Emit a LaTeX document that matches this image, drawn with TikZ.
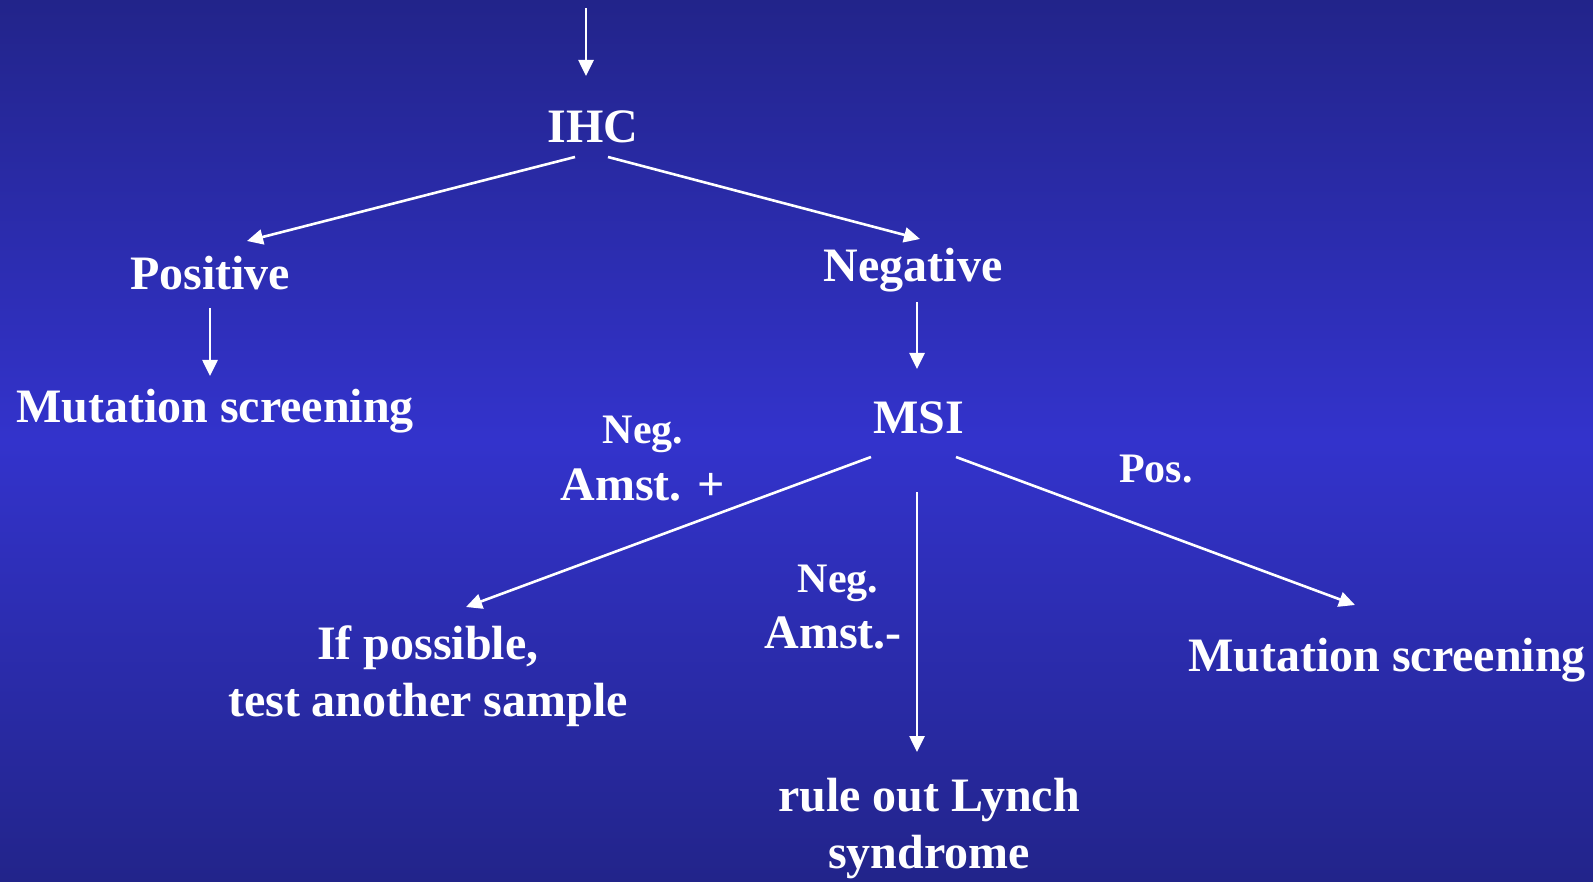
\documentclass[tikz,border=0pt]{standalone}
\usepackage{fontspec}
\setmainfont{Liberation Serif}
\usetikzlibrary{arrows.meta}
\definecolor{bgedge}{RGB}{34,36,138}
\definecolor{bgmid}{RGB}{51,51,204}
\tikzset{
  lbl/.style={text=white, font=\bfseries\fontsize{48}{57}\selectfont, inner sep=0pt, anchor=base, align=center},
  small/.style={text=white, font=\bfseries\fontsize{42}{50}\selectfont, inner sep=0pt, anchor=base},
  arr/.style={white, line width=2.6pt, -{Triangle[length=16pt,width=15pt]}},
}
\begin{document}
\begin{tikzpicture}[x=1pt,y=-1pt]
  % background
  \shade[top color=bgedge, bottom color=bgedge, middle color=bgmid] (0,0) rectangle (1593,882);
  \useasboundingbox (0,0) rectangle (1593,882);

  % text nodes (base anchor = baseline of the last line)
  \node[lbl] (ihc) at (593,143) {IHC};
  \node[lbl] (pos) at (210,290) {Positive};
  \node[lbl] (neg) at (913,282) {Negative};
  \node[lbl] (mutL) at (215,422) {Mutation screening};
  \node[lbl] (msi) at (919,433) {MSI};
  \node[small] (negA) at (643,443) {Neg.};
  \node[lbl] (amstP) at (643,500) {Amst. +};
  \node[small] (posL) at (1156,482) {Pos.};
  \node[small] (negB) at (838,592) {Neg.};
  \node[lbl] (amstM) at (833,648) {Amst.-};
  \node[lbl] (ifp) at (428,716) {If possible,\\test another sample};
  \node[lbl] (mutR) at (1387,671) {Mutation screening};
  \node[lbl] (rule) at (929,868) {rule out Lynch\\syndrome};

  % connector ends
  \coordinate (top) at (586,8);
  \coordinate (ihcIn) at (586,76);
  \coordinate (ihcL) at (575,157);
  \coordinate (ihcR) at (608,157);
  \coordinate (posIn) at (247,241);
  \coordinate (negIn) at (920,239);
  \coordinate (posOut) at (210,308);
  \coordinate (mutLIn) at (210,376);
  \coordinate (negOut) at (917,302);
  \coordinate (msiIn) at (917,369);
  \coordinate (msiL) at (871,457);
  \coordinate (msiR) at (956,457);
  \coordinate (msiD) at (917,492);
  \coordinate (ifpIn) at (466,607);
  \coordinate (mutRIn) at (1355,605);
  \coordinate (ruleIn) at (917,752);

  % connectors
  \draw[arr] (top) -- (ihcIn);
  \draw[arr] (ihcL) -- (posIn);
  \draw[arr] (ihcR) -- (negIn);
  \draw[arr] (posOut) -- (mutLIn);
  \draw[arr] (negOut) -- (msiIn);
  \draw[arr] (msiL) -- (ifpIn);
  \draw[arr] (msiR) -- (mutRIn);
  \draw[arr] (msiD) -- (ruleIn);
\end{tikzpicture}
\end{document}
